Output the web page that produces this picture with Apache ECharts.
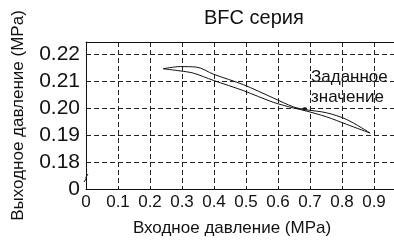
<!DOCTYPE html>
<html lang="ru">
<head>
<meta charset="UTF-8">
<title>BFC серия</title>
<style type="text/css">
  body { margin: 0; background: #fff; }
  #chart { width: 394px; height: 243px; }
</style>
</head>
<body>
<div id="chart"></div>
<script src="https://cdn.jsdelivr.net/npm/echarts@6/dist/echarts.min.js"></script>
<script type="text/javascript">
// входное давление / выходное давление, верхняя ветвь петли
var inletUpper  = [0.241, 0.294, 0.346, 0.398, 0.492, 0.585, 0.648, 0.684, 0.752, 0.815, 0.888];
var outletUpper = [0.2145, 0.2153, 0.2151, 0.2125, 0.2086, 0.2037, 0.2004, 0.1994, 0.1982, 0.1957, 0.1907];
// нижняя ветвь
var inletLower  = [0.241, 0.294, 0.335, 0.398, 0.492, 0.585, 0.648, 0.684, 0.752, 0.815, 0.888];
var outletLower = [0.2145, 0.2137, 0.2129, 0.2102, 0.2064, 0.2021, 0.2000, 0.1990, 0.1967, 0.1939, 0.1907];
// заданное значение
var setPoint = [0.684, 0.1996];
var xTicks = ['0', '0.1', '0.2', '0.3', '0.4', '0.5', '0.6', '0.7', '0.8', '0.9'];

function pairs(xs, ys) {
    var out = [];
    for (var i = 0; i < xs.length; i++) out.push([xs[i], ys[i]]);
    return out;
}

var myChart = echarts.init(document.getElementById('chart'));
var dashed = { show: true, lineStyle: { color: '#222', width: 1, type: [5, 3] } };
var option = {
    animation: false,
    title: {
        text: 'BFC серия',
        left: 199,
        top: 3,
        textStyle: { fontFamily: 'Liberation Sans', fontSize: 20, fontWeight: 'normal', color: '#111' }
    },
    grid: { left: 86, top: 42, right: 0, bottom: 54 },
    xAxis: [{
        type: 'value',
        min: 0,
        max: 0.9625,
        interval: 0.1,
        name: 'Входное давление (MPa)',
        nameLocation: 'middle',
        nameGap: 31,
        nameTextStyle: { fontFamily: 'Liberation Sans', fontSize: 17, color: '#111', padding: [0, 16, 0, 0] },
        axisLine: { show: true, lineStyle: { color: '#111', width: 1 } },
        axisTick: { show: false },
        splitLine: dashed,
        axisLabel: {
            showMaxLabel: false,
            margin: 5,
            fontFamily: 'Liberation Sans',
            fontSize: 17,
            color: '#111',
            formatter: function (v) { return xTicks[Math.round(v * 10)] || ''; }
        }
    }, {
        type: 'value',
        position: 'top',
        min: 0,
        max: 0.9625,
        axisLine: { show: true, onZero: false, lineStyle: { color: '#111', width: 1 } },
        axisTick: { show: false },
        axisLabel: { show: false },
        splitLine: { show: false }
    }],
    yAxis: {
        type: 'value',
        min: 0.17,
        max: 0.2244,
        interval: 0.01,
        name: 'Выходное давление (MPa)',
        nameLocation: 'middle',
        nameGap: 59,
        nameTextStyle: { fontFamily: 'Liberation Sans', fontSize: 17, color: '#111' },
        axisLine: { show: true, lineStyle: { color: '#111', width: 1 } },
        axisTick: { show: false },
        splitLine: dashed,
        axisLabel: {
            showMaxLabel: false,
            margin: 6,
            fontFamily: 'Liberation Sans',
            fontSize: 21,
            color: '#111',
            formatter: function (v) { return v < 0.175 ? '0' : v.toFixed(2); }
        }
    },
    graphic: [
        {
            type: 'polyline',
            shape: { points: [[84, 182], [86, 179], [86, 177], [88, 174]] },
            style: { stroke: '#111', lineWidth: 1, fill: null }
        },
        {
            type: 'text',
            left: 311,
            top: 67,
            style: { text: 'Заданное\nзначение', font: '17px Liberation Sans', fill: '#111', lineHeight: 20 }
        }
    ],
    series: [
        {
            type: 'line',
            data: pairs(inletUpper, outletUpper),
            smooth: 0.3,
            showSymbol: false,
            lineStyle: { color: '#111', width: 1 }
        },
        {
            type: 'line',
            data: pairs(inletLower, outletLower),
            smooth: 0.3,
            showSymbol: false,
            lineStyle: { color: '#111', width: 1 }
        },
        {
            type: 'scatter',
            data: [setPoint],
            symbolSize: 4,
            itemStyle: { color: '#111' }
        }
    ]
};
myChart.setOption(option);
</script>
</body>
</html>
